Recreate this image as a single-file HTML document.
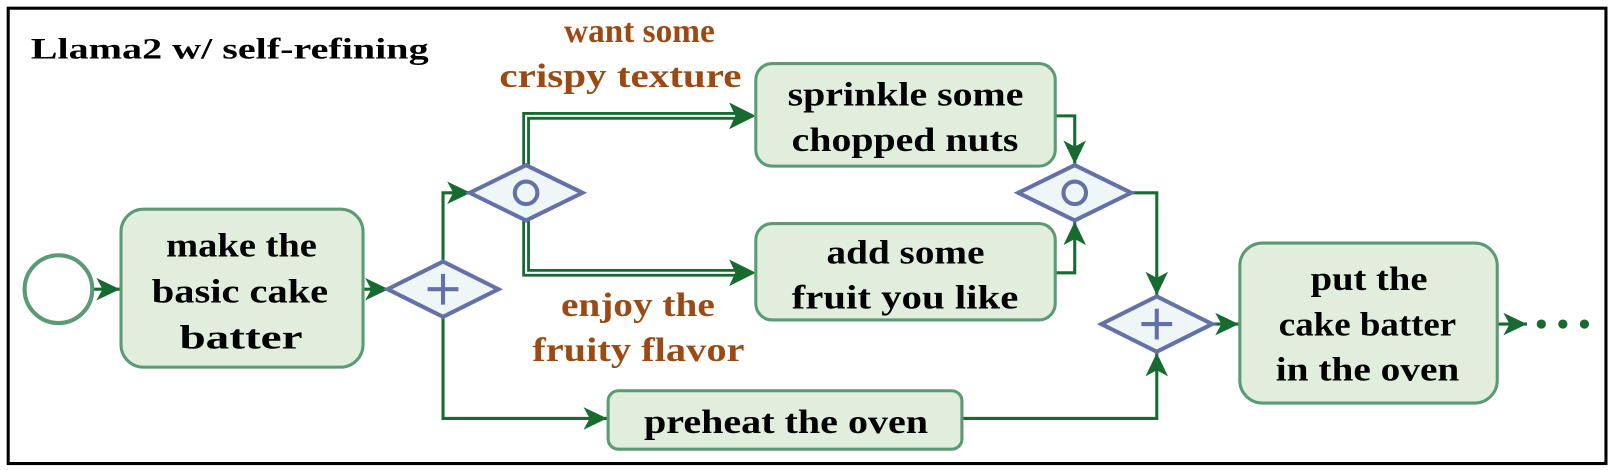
<!DOCTYPE html>
<html><head><meta charset="utf-8"><style>html,body{margin:0;padding:0;background:#fff}svg{display:block}
text{font-family:"Liberation Serif",Tinos,"Times New Roman",Times,"DejaVu Serif",serif;font-weight:bold}</style></head>
<body>
<svg width="1608" height="470" viewBox="0 0 1568 458.3" preserveAspectRatio="none" xmlns="http://www.w3.org/2000/svg">
<defs>
<marker id="b" markerWidth="26" markerHeight="22" refX="23" refY="11" orient="auto" markerUnits="userSpaceOnUse"><path d="M0,0 L23,11 L0,22 L6,11 Z" fill="#176b30"/></marker>
</defs>
<rect x="8" y="8" width="1558" height="444" fill="#fff" stroke="#000" stroke-width="3"/>
<text x="30" y="57" font-size="29" font-family="Liberation Serif, serif" textLength="388" lengthAdjust="spacingAndGlyphs">Llama2 w/ self-refining</text>
<g fill="none" stroke="#176b30" stroke-width="3">
<path d="M91,282 H117" marker-end="url(#b)"/>
<path d="M354,282 H379" marker-end="url(#b)"/>
<path d="M432,255 V188 H459" marker-end="url(#b)"/>
<path d="M432,309 V408 H592" marker-end="url(#b)"/>
<path d="M1029,113 H1048 V160" marker-end="url(#b)"/>
<path d="M1029,266 H1048 V216" marker-end="url(#b)"/>
<path d="M1103,188 H1128 V288" marker-end="url(#b)"/>
<path d="M938,408 H1128 V344" marker-end="url(#b)"/>
<path d="M1182,316 H1208" marker-end="url(#b)"/>
<path d="M1460,316 H1489" marker-end="url(#b)"/>
</g>
<g fill="none">
<path d="M513,161 V113 H722" stroke="#176b30" stroke-width="7.5"/>
<path d="M513,161 V113 H722" stroke="#fff" stroke-width="2"/>
<path d="M513,215 V266 H722" stroke="#176b30" stroke-width="7.5"/>
<path d="M513,215 V266 H722" stroke="#fff" stroke-width="2"/>
</g>
<path d="M711,100 L737,113 L711,126 L717,113 Z" fill="#176b30"/>
<path d="M711,253 L737,266 L711,279 L717,266 Z" fill="#176b30"/>
<circle cx="57" cy="282" r="33" fill="#fff" stroke="#5a9a74" stroke-width="4"/>
<g fill="#e2eedd" stroke="#5a9a74" stroke-width="3">
<rect x="118" y="204" width="236" height="154" rx="22"/>
<rect x="737" y="62" width="292" height="100" rx="16"/>
<rect x="737" y="218" width="292" height="94" rx="16"/>
<rect x="593" y="381" width="345" height="57" rx="10"/>
<rect x="1209" y="237" width="251" height="156" rx="22"/>
</g>
<g fill="#eef6f7" stroke="#6371a6" stroke-width="4">
<path d="M378,282 L432,255 L486,282 L432,309 Z"/>
<path d="M458,188 L513,161 L568,188 L513,215 Z"/>
<path d="M993,188 L1048,161 L1103,188 L1048,215 Z"/>
<path d="M1074,316 L1128,289 L1182,316 L1128,343 Z"/>
<path d="M432,267 V297 M417,282 H447 M1128,301 V331 M1113,316 H1143" fill="none"/>
<circle cx="513" cy="188" r="11"/>
<circle cx="1048" cy="188" r="11"/>
</g>
<g fill="#176b30"><circle cx="1503" cy="316" r="4.5"/><circle cx="1524" cy="316" r="4.5"/><circle cx="1545" cy="316" r="4.5"/></g>
<g font-size="33" font-family="Liberation Serif, serif" lengthAdjust="spacingAndGlyphs">
<text x="162" y="250" textLength="147" lengthAdjust="spacingAndGlyphs">make the</text>
<text x="148" y="295" textLength="172" lengthAdjust="spacingAndGlyphs">basic cake</text>
<text x="175" y="340" textLength="120" lengthAdjust="spacingAndGlyphs">batter</text>
<text x="768" y="103" textLength="230" lengthAdjust="spacingAndGlyphs">sprinkle some</text>
<text x="772" y="147" textLength="221" lengthAdjust="spacingAndGlyphs">chopped nuts</text>
<text x="806" y="257" textLength="154" lengthAdjust="spacingAndGlyphs">add some</text>
<text x="772" y="301" textLength="221" lengthAdjust="spacingAndGlyphs">fruit you like</text>
<text x="628" y="422" textLength="277" lengthAdjust="spacingAndGlyphs">preheat the oven</text>
<text x="1278" y="283" textLength="114" lengthAdjust="spacingAndGlyphs">put the</text>
<text x="1247" y="327" textLength="173" lengthAdjust="spacingAndGlyphs">cake batter</text>
<text x="1244" y="371" textLength="179" lengthAdjust="spacingAndGlyphs">in the oven</text>
<g fill="#9b4a14">
<text x="550" y="41" textLength="147" lengthAdjust="spacingAndGlyphs">want some</text>
<text x="487" y="85" textLength="236" lengthAdjust="spacingAndGlyphs">crispy texture</text>
<text x="547" y="308" textLength="150" lengthAdjust="spacingAndGlyphs">enjoy the</text>
<text x="519" y="352" textLength="207" lengthAdjust="spacingAndGlyphs">fruity flavor</text>
</g>
</g>
</svg>
</body></html>
